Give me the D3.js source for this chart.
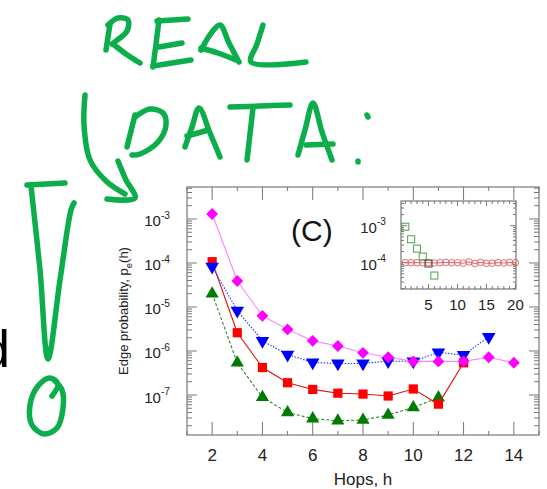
<!DOCTYPE html>
<html lang="en">
<head>
<meta charset="UTF-8">
<title>Edge probability vs hops</title>
<script src="https://d3js.org/d3.v7.min.js"></script>
<style>
  body { margin: 0; background: #fff; }
  svg { display: block; font-family: Arial, "Liberation Sans", sans-serif; }
  .frame { fill: none; stroke: #777; stroke-width: 1.2px; }
  .tick { stroke: #777; stroke-width: 1px; }
  .tlabel { font-size: 15px; fill: #222; }
  .ink { fill: none; stroke: #0bae4b; stroke-width: 5.5px; stroke-linecap: round; stroke-linejoin: round; }
</style>
</head>
<body>
<svg width="547" height="489"></svg>
<script>
// main panel: hops vs edge probability
const hops = [2, 3, 4, 5, 6, 7, 8, 9, 10, 11, 12, 13, 14];
const magenta = [1.3e-3, 3.9e-5, 6.3e-6, 3.1e-6, 1.7e-6, 1.3e-6, 9.1e-7, 7.2e-7, 5.8e-7, 5.8e-7, 5.8e-7, 7.2e-7, 5.4e-7];
const blue    = [8.3e-5, 8.3e-6, 1.7e-6, 8.3e-7, 5.5e-7, 5.2e-7, 5.2e-7, 5.9e-7, 5.8e-7, 9.3e-7, 8.1e-7, 2.1e-6];
const red     = [1.07e-4, 2.6e-6, 4.2e-7, 1.9e-7, 1.34e-7, 1.1e-7, 1.05e-7, 9.5e-8, 1.37e-7, 6.2e-8, 5.4e-7];
const green   = [2.0e-5, 5.4e-7, 8.9e-8, 4.0e-8, 2.9e-8, 2.6e-8, 2.7e-8, 3.5e-8, 5.2e-8, 8.7e-8];
const xTicks = [2, 4, 6, 8, 10, 12, 14];
const yTicks = [-7, -6, -5, -4, -3];

// inset
const insetSquares = [9.4e-4, 4.3e-4, 2.4e-4, 1.46e-4, 9.5e-5, 4.5e-5];
const insetCircles = [1.0e-4, 1.0e-4, 1.0e-4, 1.0e-4, 1.0e-4, 0.98e-4, 1.0e-4, 1.02e-4, 1.0e-4, 1.0e-4,
                      0.97e-4, 1.05e-4, 0.95e-4, 1.02e-4, 0.96e-4, 0.97e-4, 1.0e-4, 0.98e-4, 1.02e-4, 1.0e-4];
const insetXTicks = [5, 10, 15, 20];
const insetYTicks = [-4, -3];

const svg = d3.select("svg");

// --- main plot scales
const x = d3.scaleLinear().domain([1, 15]).range([187, 539]);
const y = d3.scaleLog().domain([Math.pow(10, -7.909), Math.pow(10, -2.273)]).range([435, 187]);

function frame(g, xs, ys, xMinor, yMajLen, yMinLen, xMajLen, xMinLen) {
  const [x0, x1] = xs.range();
  const [y0, y1] = ys.range();
  g.append("rect").attr("class", "frame")
    .attr("x", x0).attr("y", y1).attr("width", x1 - x0).attr("height", y0 - y1);
  // x ticks top + bottom
  xMinor.forEach(t => {
    const len = t.major ? xMajLen : xMinLen;
    g.append("line").attr("class", "tick")
      .attr("x1", xs(t.v)).attr("x2", xs(t.v)).attr("y1", y0).attr("y2", y0 - len);
    g.append("line").attr("class", "tick")
      .attr("x1", xs(t.v)).attr("x2", xs(t.v)).attr("y1", y1).attr("y2", y1 + len);
  });
  // log y ticks left + right
  const [lo, hi] = ys.domain();
  for (let d = Math.floor(Math.log10(lo)); d <= Math.ceil(Math.log10(hi)); d++) {
    for (let m = 1; m <= 9; m++) {
      const v = m * Math.pow(10, d);
      if (v < lo || v > hi) continue;
      const len = m === 1 ? yMajLen : yMinLen;
      g.append("line").attr("class", "tick")
        .attr("x1", x0).attr("x2", x0 + len).attr("y1", ys(v)).attr("y2", ys(v));
      g.append("line").attr("class", "tick")
        .attr("x1", x1).attr("x2", x1 - len).attr("y1", ys(v)).attr("y2", ys(v));
    }
  }
}

const mainG = svg.append("g");
frame(mainG, x, y, d3.range(1, 16).map(v => ({ v, major: v % 2 === 0 })), 10, 5, 13, 4);

// tick labels
mainG.selectAll(".xl").data(xTicks).join("text")
  .attr("class", "tlabel").attr("x", d => x(d)).attr("y", 461)
  .attr("text-anchor", "middle").style("font-size", "17px").text(d => d);

function powLabel(g, px, py, e, size) {
  const t = g.append("text").attr("class", "tlabel").attr("text-anchor", "end")
    .attr("x", px).attr("y", py).style("font-size", size + "px");
  t.append("tspan").text("10");
  t.append("tspan").attr("dy", -size * 0.5).style("font-size", (size * 0.68) + "px").text(e);
}
yTicks.forEach(e => powLabel(mainG, 170, y(Math.pow(10, e)) + 7.5, e, 15));

// axis titles
mainG.append("text").attr("x", 363).attr("y", 485).attr("text-anchor", "middle")
  .style("font-size", "17px").attr("fill", "#222").text("Hops, h");
const yt = mainG.append("text").attr("transform", "translate(128,311) rotate(-90)")
  .attr("text-anchor", "middle").style("font-size", "13px").attr("fill", "#222");
yt.append("tspan").text("Edge probability, p");
yt.append("tspan").attr("dy", 4).style("font-size", "9.5px").text("e");
yt.append("tspan").attr("dy", -4).text("(h)");

mainG.append("text").attr("x", 291).attr("y", 241).style("font-size", "30px")
  .attr("fill", "#111").text("(C)");

// series
const series = [
  { vals: green, color: "#007a00", line: "#2a8a2a", dash: "3,2", sym: d3.symbolTriangle, size: 75, rot: 0 },
  { vals: red, color: "#ff0000", line: "#e01010", dash: null, sym: d3.symbolSquare, size: 85, rot: 0 },
  { vals: blue, color: "#0000ff", line: "#2030ff", dash: "1.5,1.5", sym: d3.symbolTriangle, size: 80, rot: 180 },
  { vals: magenta, color: "#ff00ff", line: "#ff80ff", dash: null, sym: d3.symbolSquare, size: 70, rot: 45 }
];
const line = d3.line().x(d => x(d[0])).y(d => y(d[1]));
series.forEach(s => {
  const pts = s.vals.map((v, i) => [hops[i], v]);
  mainG.append("path").attr("d", line(pts)).attr("fill", "none")
    .attr("stroke", s.line).attr("stroke-width", 1.1)
    .attr("stroke-dasharray", s.dash);
  mainG.selectAll(null).data(pts).join("path")
    .attr("d", d3.symbol().type(s.sym).size(s.size))
    .attr("transform", d => `translate(${x(d[0])},${y(d[1])}) rotate(${s.rot})`)
    .attr("fill", s.color);
});

// --- inset
const ix = d3.scaleLinear().domain([0.25, 20.1]).range([401, 516]);
const iy = d3.scaleLog().domain([Math.pow(10, -4.711), Math.pow(10, -2.332)]).range([289, 201]);
const insetG = svg.append("g");
insetG.append("rect").attr("x", 401).attr("y", 201).attr("width", 115).attr("height", 88).attr("fill", "#fff");
frame(insetG, ix, iy, d3.range(1, 21).map(v => ({ v, major: v % 5 === 0 })), 6, 3, 5, 3);

insetXTicks.forEach(t => insetG.append("text").attr("class", "tlabel")
  .attr("x", ix(t)).attr("y", 310).attr("text-anchor", "middle").text(t));
insetYTicks.forEach(e => powLabel(insetG, 386, iy(Math.pow(10, e)) + 7, e, 15));

const cpts = insetCircles.map((v, i) => [i + 1, v]);
insetG.append("path")
  .attr("d", d3.line().x(d => ix(d[0])).y(d => iy(d[1]))(cpts))
  .attr("fill", "none").attr("stroke", "#e06060").attr("stroke-width", 1);
insetG.selectAll(null).data(cpts).join("circle")
  .attr("cx", d => ix(d[0])).attr("cy", d => iy(d[1])).attr("r", 3.3)
  .attr("fill", "none").attr("stroke", "#e06a6a").attr("stroke-width", 1);
insetG.selectAll(null).data(insetSquares.map((v, i) => [i + 1, v])).join("rect")
  .attr("x", d => ix(d[0]) - 3.5).attr("y", d => iy(d[1]) - 3.5)
  .attr("width", 7).attr("height", 7)
  .attr("fill", "none").attr("stroke", d => d[0] === 5 ? "#444" : "#4e9e4e").attr("stroke-width", 1);

// --- handwritten annotations
const strokes = [
  // R
  [[110, 24], [108, 37], [106, 50]],
  [[108, 25], [118, 18], [128, 20], [127, 31], [116, 41], [112, 44]],
  [[113, 44], [126, 54], [140, 63]],
  // E
  [[159, 20], [156, 44], [153, 67]],
  [[157, 21], [188, 19]],
  [[159, 47], [182, 43]],
  [[153, 66], [191, 60]],
  // A
  [[201, 50], [212, 32], [220, 25], [229, 43], [239, 62]],
  [[201, 48], [218, 53], [236, 60]],
  // L
  [[263, 25], [257, 44], [251, 62], [306, 62]],
  // D
  [[135, 115], [131, 131], [127, 147]],
  [[135, 117], [150, 109], [163, 113], [166, 125], [158, 142], [140, 154], [132, 155]],
  // A
  [[185, 147], [192, 127], [199, 108], [210, 133], [220, 157]],
  [[187, 136], [198, 133], [208, 130]],
  // T
  [[230, 107], [260, 106], [290, 105]],
  [[253, 108], [250, 134], [247, 160]],
  // A
  [[298, 155], [305, 130], [313, 103], [322, 132], [332, 160]],
  [[306, 145], [333, 144]],
  // colon
  [[367, 115], [368, 117]],
  [[358, 161], [358, 162]],
  // arrow
  [[85, 95], [84, 125], [90, 160], [106, 181], [125, 194]],
  [[118, 161], [126, 180], [135, 198], [107, 199]],
  // funnel
  [[27, 185], [65, 183]],
  [[31, 186], [40, 270], [48, 359], [60, 280], [71, 210], [74, 203]],
  // 0
  [[52, 396], [58, 384], [50, 378], [38, 386], [30, 405], [32, 425], [44, 434], [57, 428], [63, 408], [62, 390], [55, 381]]
];
const ink = d3.line().curve(d3.curveCatmullRom);
svg.append("g").selectAll("path").data(strokes).join("path")
  .attr("class", "ink").attr("d", ink);

// partial black letter at left edge (cut off in the original too)
svg.append("text").attr("x", 10).attr("y", 367).attr("text-anchor", "end")
  .style("font-size", "52px").attr("fill", "#000").text("d");
</script>
</body>
</html>
